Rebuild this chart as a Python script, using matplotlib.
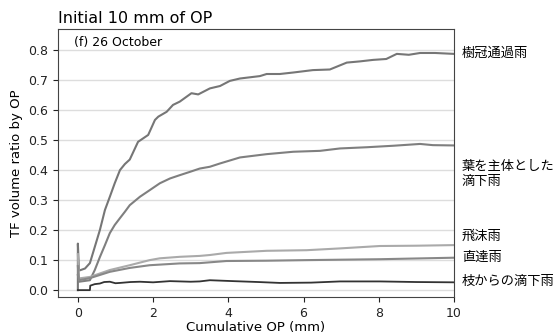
"""
TF volume ratio vs cumulative OP, initial 10 mm
"""
import numpy as np
import matplotlib
matplotlib.use("Agg")
import matplotlib.pyplot as plt

plt.rcParams['font.family'] = ['DejaVu Sans', 'Noto Sans CJK JP']

# Canopy throughfall (樹冠通過雨)
x_canopy = [0.0, 0.0, 0.03, 0.19, 0.32, 0.45, 0.585, 0.72, 0.85, 0.98, 1.12, 1.25,
            1.38, 1.6, 1.87, 2.05, 2.14, 2.36, 2.53, 2.71, 3.02, 3.2, 3.51, 3.78,
            4.04, 4.31, 4.84, 5.02, 5.37, 5.73, 6.25, 6.7, 7.15, 7.5, 7.85, 8.2,
            8.48, 8.8, 9.1, 9.5, 10.0]
y_canopy = [0.0, 0.155, 0.065, 0.072, 0.09, 0.144, 0.2, 0.267, 0.311, 0.356, 0.4, 0.42,
            0.435, 0.494, 0.517, 0.567, 0.578, 0.594, 0.617, 0.628, 0.656, 0.652, 0.672, 0.68,
            0.697, 0.705, 0.713, 0.72, 0.72, 0.725, 0.733, 0.735, 0.758, 0.762, 0.767, 0.77,
            0.787, 0.784, 0.79, 0.79, 0.787]

# Leaf drip (葉を主体とした滴下雨)
x_leaf = [0.0, 0.03, 0.32, 0.45, 0.585, 0.72, 0.85, 0.98, 1.12, 1.25, 1.38, 1.65,
          1.91, 2.18, 2.45, 2.71, 2.98, 3.24, 3.51, 3.78, 4.31, 5.02, 5.73, 6.44,
          6.97, 7.68, 8.39, 9.1, 9.44, 10.0]
y_leaf = [0.05, 0.028, 0.033, 0.067, 0.11, 0.15, 0.19, 0.217, 0.24, 0.261, 0.283, 0.311,
          0.333, 0.356, 0.372, 0.383, 0.394, 0.405, 0.411, 0.422, 0.442, 0.453, 0.461, 0.464,
          0.472, 0.476, 0.481, 0.487, 0.483, 0.482]

# Splash (飛沫雨)
x_splash = [0.0, 0.03, 0.32, 0.85, 1.38, 1.91, 2.18, 2.71, 3.24, 3.51, 3.95, 5.02,
            6.08, 6.97, 8.03, 9.0, 10.0]
y_splash = [0.12, 0.039, 0.044, 0.067, 0.083, 0.1, 0.106, 0.111, 0.114, 0.117, 0.124, 0.131,
            0.133, 0.139, 0.147, 0.148, 0.15]

# Direct (直達雨)
x_direct = [0.0, 0.03, 0.32, 0.85, 1.38, 1.91, 2.71, 3.24, 3.95, 5.02, 6.08, 8.03, 10.0]
y_direct = [0.08, 0.033, 0.04, 0.061, 0.074, 0.083, 0.089, 0.09, 0.097, 0.098, 0.1, 0.103, 0.108]

# Branch drip (枝からの滴下雨)
x_branch = [0.0, 0.32, 0.33, 0.45, 0.585, 0.7, 0.85, 1.0, 1.12, 1.4, 1.65, 2.0, 2.45,
            3.0, 3.24, 3.51, 4.13, 4.8, 5.37, 6.2, 6.97, 8.03, 9.0, 10.0]
y_branch = [0.0, 0.0, 0.015, 0.02, 0.022, 0.027, 0.028, 0.023, 0.024, 0.027, 0.028, 0.026, 0.03,
            0.028, 0.029, 0.033, 0.03, 0.027, 0.024, 0.025, 0.029, 0.029, 0.027, 0.026]

labels = ['樹冠通過雨', '葉を主体とした\n滴下雨', '飛沫雨', '直達雨', '枝からの滴下雨']
label_y = [0.79, 0.387, 0.18, 0.11, 0.03]

fig = plt.figure(figsize=(5.57, 3.33), dpi=100)
ax = fig.add_axes([0.104, 0.108, 0.711, 0.805])

ax.plot(x_canopy, y_canopy, color='#767676', lw=1.5)
ax.plot(x_leaf, y_leaf, color='#7f7f7f', lw=1.5)
ax.plot(x_splash, y_splash, color='#aaaaaa', lw=1.5)
ax.plot(x_direct, y_direct, color='#888888', lw=1.5)
ax.plot(x_branch, y_branch, color='#333333', lw=1.3)

ax.set_xlim(-0.53, 10)
ax.set_ylim(-0.023, 0.87)
ax.set_yticks(np.arange(0, 0.81, 0.1))
ax.set_xticks([0, 2, 4, 6, 8, 10])
ax.yaxis.grid(True, color='#dddddd', lw=1)
ax.set_axisbelow(True)
ax.tick_params(labelsize=9, colors='#222222')
for s in ax.spines.values():
    s.set_color('#444444')

ax.set_xlabel('Cumulative OP (mm)', fontsize=9.5, labelpad=1)
ax.set_ylabel('TF volume ratio by OP', fontsize=9.5)
ax.set_title('Initial 10 mm of OP', fontsize=11.5, loc='left', pad=4)
ax.text(0.04, 0.975, '(f) 26 October', transform=ax.transAxes, fontsize=9, va='top')

for lab, yv in zip(labels, label_y):
    ax.text(1.02, yv, lab, transform=ax.get_yaxis_transform(), fontsize=9.5,
            va='center', family=['Noto Sans CJK JP'], linespacing=1.2)

fig.savefig('out.png', dpi=100)
